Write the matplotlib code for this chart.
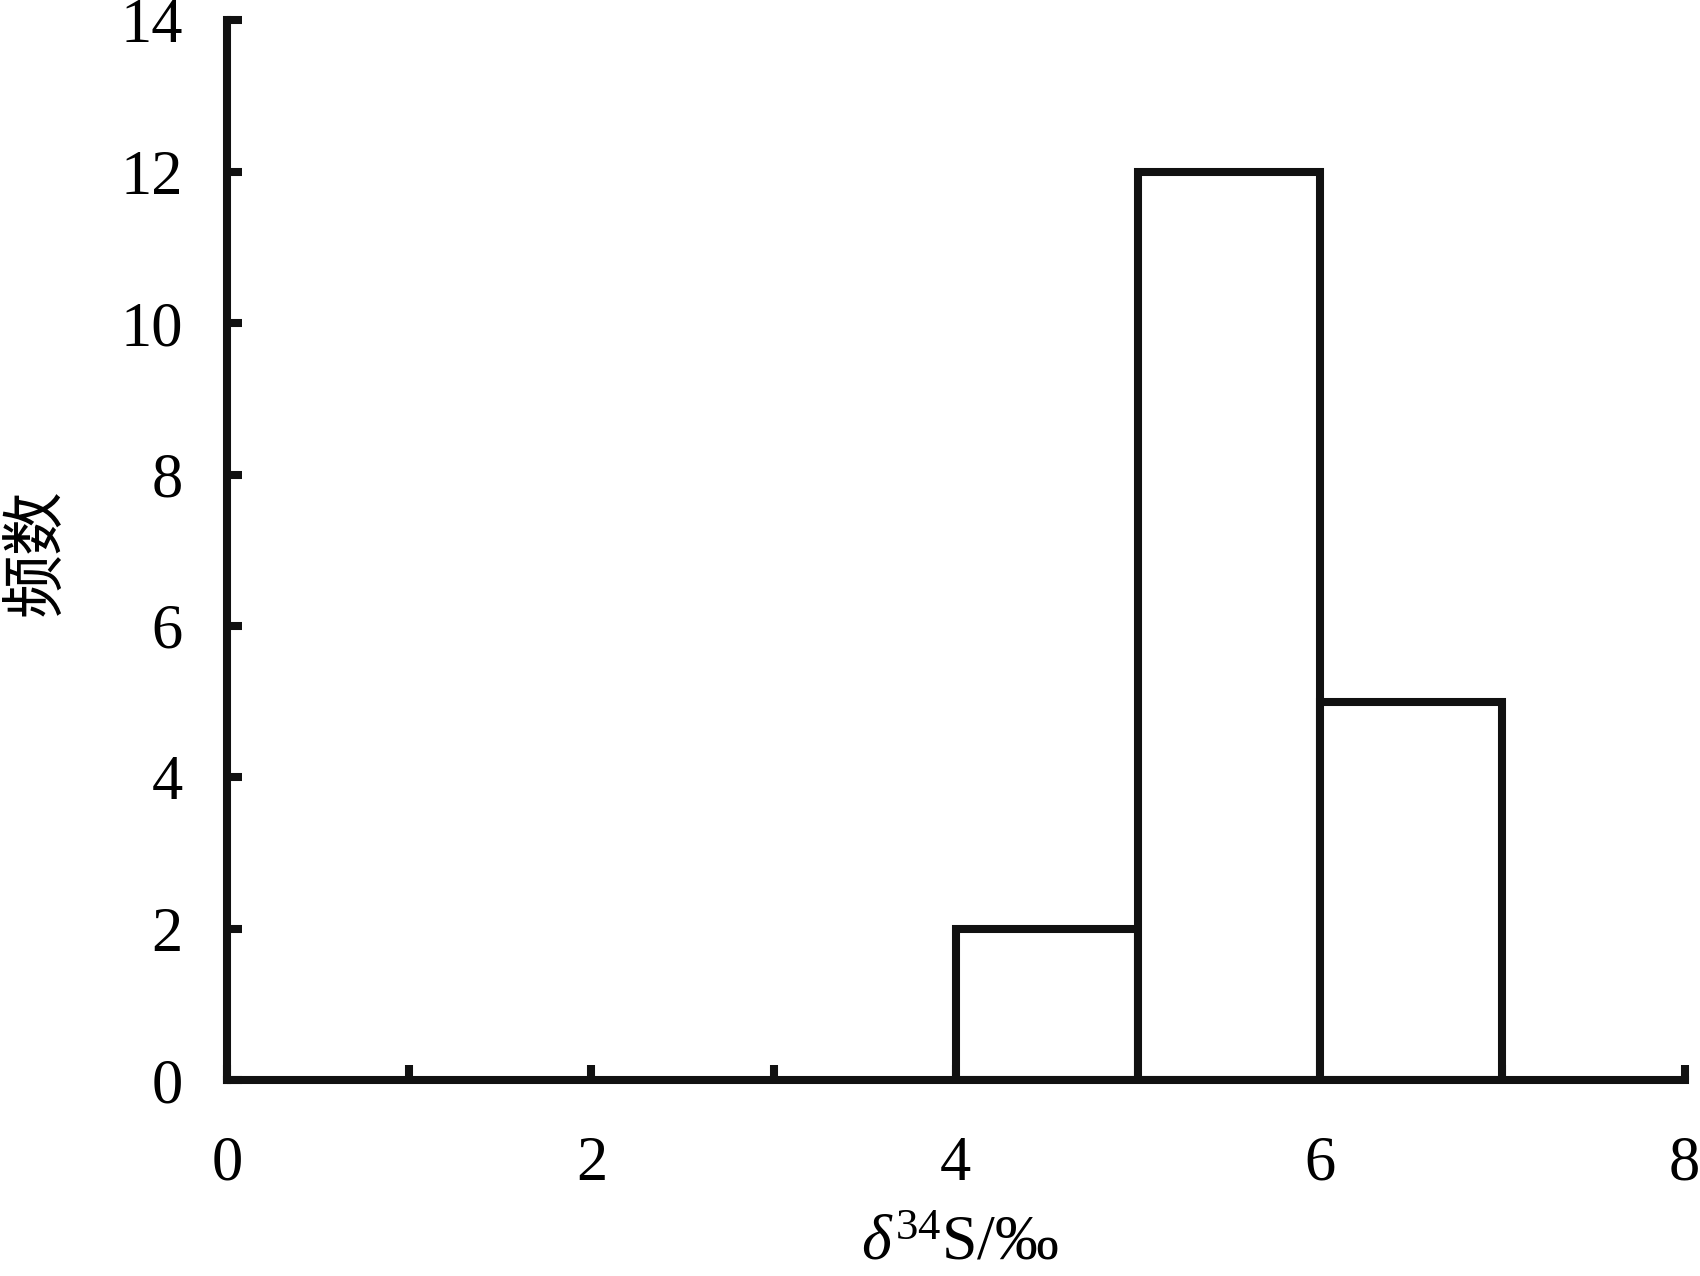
import numpy as np
import matplotlib.pyplot as plt
from matplotlib.ticker import MultipleLocator

plt.rcParams['font.family'] = ['Liberation Serif', 'Noto Sans CJK SC']
plt.rcParams['mathtext.fontset'] = 'custom'
plt.rcParams['mathtext.rm'] = 'Liberation Serif'
plt.rcParams['mathtext.it'] = 'Liberation Serif:italic'

# histogram bins (left edges) and counts
bin_left = [4, 5, 6]
counts = [2, 12, 5]
bin_width = 1

xticks = [0, 2, 4, 6, 8]
yticks = [0, 2, 4, 6, 8, 10, 12, 14]

fig = plt.figure(figsize=(17, 12.76), dpi=100)
ax = fig.add_axes([0.1335, 0.1536, 0.8575, 0.8304])

lw = 5.8
ax.bar(bin_left, counts, width=bin_width, align='edge', color='white',
       edgecolor='#111111', linewidth=lw, zorder=2)

ax.set_xlim(0, 8)
ax.set_ylim(0, 14)
for s in ['top', 'right']:
    ax.spines[s].set_visible(False)
for s in ['left', 'bottom']:
    ax.spines[s].set_linewidth(lw)
    ax.spines[s].set_color('#111111')
    ax.spines[s].set_capstyle('projecting')
    ax.spines[s].set_zorder(3)

ax.set_xticks(xticks)
ax.set_yticks(yticks)
ax.xaxis.set_minor_locator(MultipleLocator(1))
ax.tick_params(axis='both', which='both', direction='in', length=11,
               width=lw, color='#111111')
ax.tick_params(axis='x', which='major', labelsize=45, pad=40)
ax.tick_params(axis='y', which='major', labelsize=45, pad=32)

fig.text(0.022, 0.567, '频数', rotation=90, fontsize=46,
         family=['Noto Sans CJK SC'], ha='center', va='center')
fig.text(0.565, 0.002, r'$\delta^{34}$S/‰', fontsize=46, ha='center', va='bottom')

fig.savefig('out.png', dpi=100)
